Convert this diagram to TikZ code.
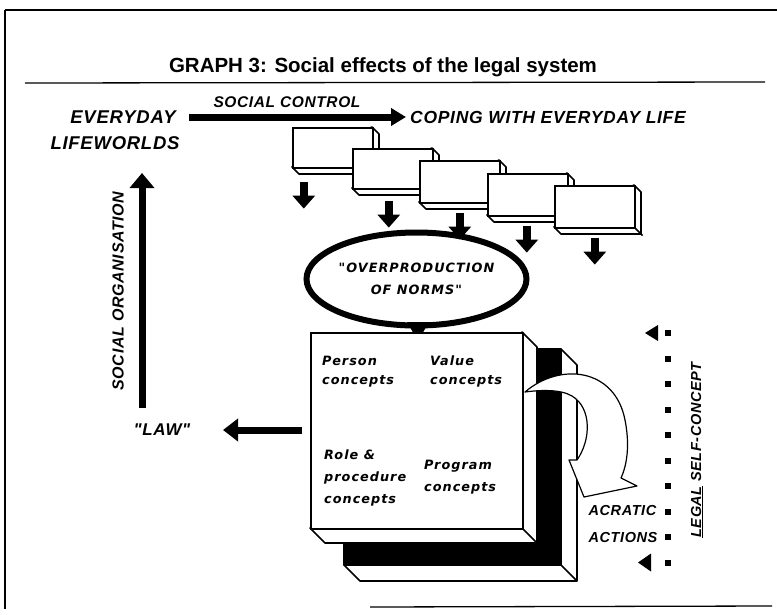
\documentclass[tikz,border=0pt]{standalone}
\usepackage{fontspec}
\setmainfont{Liberation Sans}
\newfontfamily\trackfont[LetterSpace=4]{Liberation Sans}
\newfontfamily\heavyfont[LetterSpace=8]{DejaVu Sans}
\usetikzlibrary{arrows.meta,shapes.geometric,calc}

\tikzset{
  rule/.style={line width=1.3pt},
  edge/.style={line width=1.6pt, line join=round},
  caps/.style={font=\trackfont\bfseries\itshape\fontsize{#1}{#1}\selectfont, inner sep=1pt},
  concept/.style={font=\heavyfont\bfseries\itshape\fontsize{12.8}{#1}\selectfont,
                  align=left, inner sep=0pt, anchor=west},
  fat/.style args={#1/#2/#3}{line width=#1pt, -{Triangle[length=#2pt,width=#3pt]}},
  slabface/.style={draw, fill=white, line width=1.6pt, anchor=north west, inner sep=0pt},
  dot/.style={fill=black, minimum size=6pt, inner sep=0pt},
}

\begin{document}
\begin{tikzpicture}[x=1pt,y=-1pt]
\useasboundingbox (0,0) rectangle (777,614);

% frame and title rule
\draw[rule] (5,10) -- (777,10);
\draw[rule] (5,10) -- (5,609);
\draw[rule] (370,607) -- (772,606);
\draw[rule] (25,83) -- (765,82);
\node[font=\bfseries\fontsize{20.5}{20.5}\selectfont] (title) at (383,67)
  {GRAPH 3: Social effects of the legal system};

% everyday lifeworlds and social control
\node[caps=18.5] (everyday) at (123,117) {EVERYDAY};
\node[caps=18.5] (lifeworlds) at (115,143) {LIFEWORLDS};
\node[caps=17.5, anchor=west] (coping) at (409,117) {COPING WITH EVERYDAY LIFE};
\node[caps=15.5] (control) at (287,102) {SOCIAL CONTROL};
\draw[fat=7/15/17] ([xshift=12pt]everyday.east) -- ([xshift=-3pt]coping.west);

% cascade of norm boxes
\foreach \n/\x/\y/\h in {1/292/127/40, 2/352/148/40, 3/419/160/42, 4/487/173/42, 5/554/185/42}{
  \draw[edge, fill=white] (\x+80,\y) -- ++(7,7) -- ++(0,\h) -- ++(-80,0) -- (\x,\y+\h) -- cycle;
  \node[slabface, minimum width=80pt, minimum height=\h pt] (box\n) at (\x,\y) {};
  \draw[edge] (box\n.south east) -- ++(7,7);
}
\foreach \n/\dx/\gap in {1/-29/13, 2/-4/11, 3/0/9, 4/-1/9, 5/0/9}{
  \draw[fat=8/13/22] ($(box\n.south)+(\dx,\gap)$) -- ++(0,27);
}

% overproduction of norms
\node[ellipse, draw, line width=6pt, minimum width=194pt, minimum height=93pt, inner sep=0pt,
      align=center, font=\heavyfont\bfseries\itshape\fontsize{12.8}{22}\selectfont]
  (norms) at (416.5,279) {"OVERPRODUCTION\\OF NORMS"};
\fill (407,322) -- (429,322) -- (418,341) -- cycle;

% the legal system as a double slab
\draw[edge, fill=white] (561,349) -- (577,365) -- (577,581) -- (360,581) -- (344,565) -- (561,565) -- cycle;
\draw[edge] (561,565) -- (577,581);
\draw[edge, fill=black] (344,349) rectangle (561,565);
\draw[edge, fill=white] (522,332) -- (537,347) -- (537,543) -- (325,543) -- (310,528) -- (522,528) -- cycle;
\node[slabface, minimum width=212pt, minimum height=196pt] (block) at (310,332) {};
\draw[edge] (block.south east) -- ++(15,15);

\node[concept=19] (person) at (322,372) {Person\\concepts};
\node[concept=19] (value) at (430,371) {Value\\concepts};
\node[concept=22] (role) at (324,478) {Role \&\\procedure\\concepts};
\node[concept=22] (program) at (424,477) {Program\\concepts};

% acratic actions: curved arrow leaving the block
\draw[line width=1.2pt, fill=white, line join=round]
  (525,392) .. controls (560,362) and (615,368) .. (625,420)
  .. controls (630,445) and (627,465) .. (621,478)
  -- (637,486) -- (584,497) -- (569,460) -- (577,460)
  .. controls (591,440) and (592,408) .. (572,396)
  .. controls (560,389) and (540,390) .. cycle;
\node[caps=14.5, align=left, font=\trackfont\bfseries\itshape\fontsize{14.5}{27}\selectfont]
  (acratic) at (623,524) {ACRATIC\\ACTIONS};

% law and social organisation
\node[caps=17] (law) at (162,430) {"LAW"};
\coordinate (lawtip) at (223,430);
\draw[fat=7/15/22] ([xshift=-8pt]block.west |- lawtip) -- (lawtip);
\coordinate (orgfoot) at (142,408);
\coordinate (orghead) at (142,173);
\draw[fat=7/15/24] (orgfoot) -- (orghead);
\node[caps=16, rotate=90] (organisation) at (118,291) {SOCIAL ORGANISATION};

% legal self-concept
\foreach \k in {0,...,9}{
  \node[dot] (d\k) at (668,333+25.5*\k) {};
}
\fill ([xshift=-23pt]d0.center) -- ++(13,-8) -- ++(0,16) -- cycle;
\fill ([xshift=-30pt]d9.center) -- ++(13,-9) -- ++(0,18) -- cycle;
\node[caps=14.5, rotate=90] (selfconcept) at (697,450) {\underline{LEGAL} SELF-CONCEPT};
\end{tikzpicture}
\end{document}
